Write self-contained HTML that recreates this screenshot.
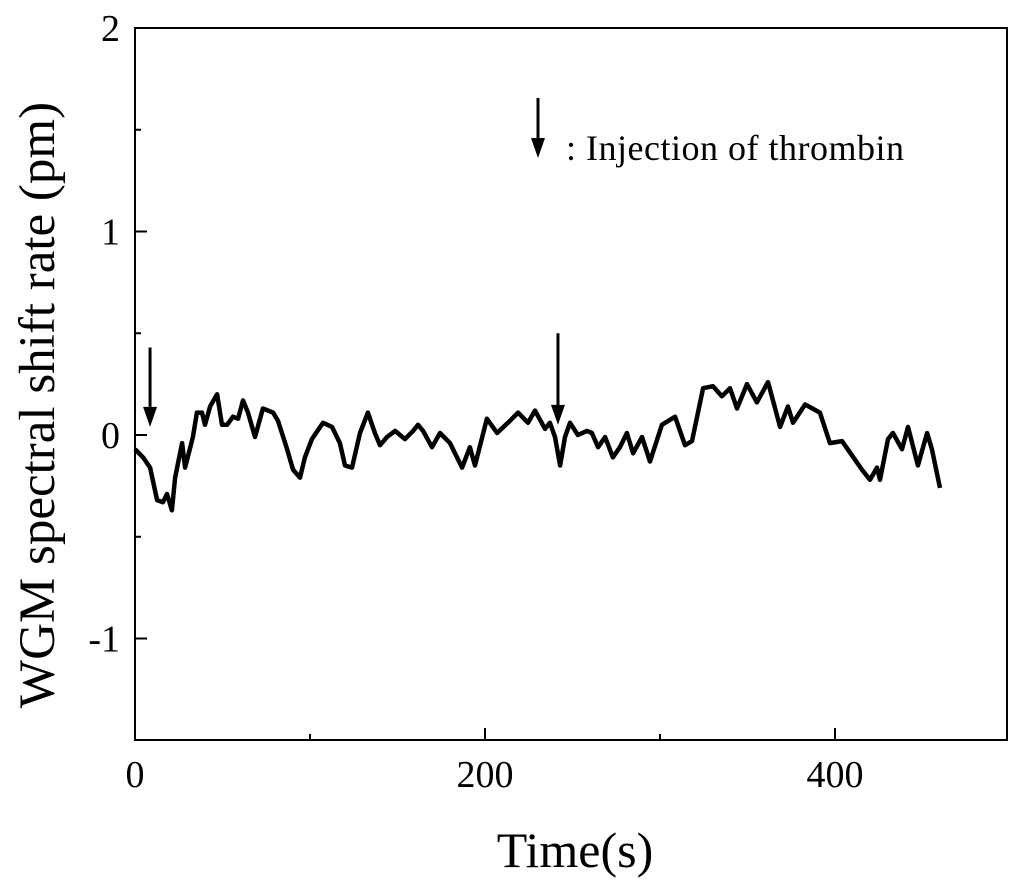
<!DOCTYPE html>
<html><head><meta charset="utf-8"><style>
body{margin:0;background:#fff;}
svg text{font-family:"Liberation Serif",serif;fill:#000;}
</style></head><body>
<svg id="chart" width="1024" height="889" viewBox="0 0 1024 889" xmlns="http://www.w3.org/2000/svg">
<rect x="135" y="28" width="872" height="712" fill="none" stroke="#000" stroke-width="2"/>
<g id="ticks"></g>
<path id="line" fill="none" stroke="#000" stroke-width="4.5" stroke-linejoin="round"/>
<g id="arrows"></g>
<line x1="538" y1="98" x2="538" y2="140" stroke="#000" stroke-width="3"/>
<polygon points="531,138 545,138 538,158" fill="#000"/>
<text x="566" y="160" font-size="36" textLength="338">: Injection of thrombin</text>
<text x="575" y="867" font-size="50" text-anchor="middle">Time(s)</text>
<text transform="translate(54,405) rotate(-90)" font-size="51" text-anchor="middle">WGM spectral shift rate (pm)</text>
</svg>
<script>
const times=[0,4.6,8.6,12.6,16,18.3,21.1,22.9,26.9,28.6,33.1,35.4,38.3,40,42.9,46.9,49.7,52.6,56,58.9,61.7,64.6,68.6,73.1,78.9,81.7,86.9,90.3,94.3,97.1,101.1,107.4,112.6,117.1,120,124,128.6,133.1,137.1,140,144,148.6,154.3,158.9,161.7,164.6,169.7,174.3,180,186.9,191.4,194.3,201.1,206.9,213.1,218.9,224.6,228.6,234.3,237.1,240,242.9,245.7,248.6,253.1,258.3,261.1,264.6,268.6,273.1,277.1,281.1,284.6,289.7,294.3,301.1,308.6,314.3,318.3,324.6,330.3,335.4,340,344,349.7,355.4,361.7,368.6,373.1,376,382.9,391.4,397.1,404,409.7,415.4,420,424,425.7,430.3,433.1,438.3,441.7,447.4,452.6,455.4,460];
const shifts=[-0.07,-0.11,-0.16,-0.32,-0.33,-0.29,-0.37,-0.21,-0.04,-0.16,-0.01,0.11,0.11,0.05,0.14,0.20,0.05,0.05,0.09,0.08,0.17,0.11,-0.01,0.13,0.11,0.07,-0.07,-0.17,-0.21,-0.11,-0.02,0.06,0.04,-0.04,-0.15,-0.16,0.01,0.11,0.01,-0.05,-0.01,0.02,-0.02,0.02,0.05,0.02,-0.06,0.01,-0.04,-0.16,-0.06,-0.15,0.08,0.01,0.06,0.11,0.06,0.12,0.03,0.06,-0.01,-0.15,-0.01,0.06,0,0.02,0.01,-0.06,-0.01,-0.11,-0.06,0.01,-0.09,-0.01,-0.13,0.05,0.09,-0.05,-0.03,0.23,0.24,0.19,0.23,0.13,0.25,0.16,0.26,0.04,0.14,0.06,0.15,0.11,-0.04,-0.03,-0.10,-0.17,-0.22,-0.16,-0.22,-0.02,0.01,-0.07,0.04,-0.15,0.01,-0.07,-0.26];
const injectionTimes=[8.6,241.7];
const injectionTop=[0.43,0.5];
const xTicks=[0,200,400];
const xMinor=[100,300];
const yTicks=[2,1,0,-1];
const yMinor=[1.5,0.5,-0.5];
const xs=v=>135+v*1.75;
const ys=v=>435-v*203.5;
const NS="http://www.w3.org/2000/svg";
const tg=document.getElementById('ticks');
function ln(x1,y1,x2,y2,name){const l=document.createElementNS(NS,'line');l.setAttribute('x1',x1);l.setAttribute('y1',y1);l.setAttribute('x2',x2);l.setAttribute('y2',y2);l.setAttribute('stroke','#000');l.setAttribute('stroke-width','2');


tg.appendChild(l);}
function tx(x,y,s,anchor,name){const t=document.createElementNS(NS,'text');t.setAttribute('x',x);t.setAttribute('y',y);t.setAttribute('font-size','38');t.setAttribute('text-anchor',anchor);t.textContent=s;


tg.appendChild(t);}
xTicks.forEach(v=>{ln(xs(v),740,xs(v),728,'x-tick');tx(xs(v),787,v,'middle','x-tick-label');});
xMinor.forEach(v=>ln(xs(v),740,xs(v),734,'x-minor-tick'));
yTicks.forEach(v=>{ln(135,ys(v),147,ys(v),'y-tick');tx(120,ys(v)+13,v,'end','y-tick-label');});
yMinor.forEach(v=>ln(135,ys(v),141,ys(v),'y-minor-tick'));
document.getElementById('line').setAttribute('d',times.map((t,i)=>(i?'L':'M')+xs(t).toFixed(1)+','+ys(shifts[i]).toFixed(1)).join(''));
const ag=document.getElementById('arrows');
injectionTimes.forEach((t,i)=>{const x=xs(t);const l=document.createElementNS(NS,'line');l.setAttribute('x1',x);l.setAttribute('x2',x);l.setAttribute('y1',ys(injectionTop[i]));l.setAttribute('y2',ys(0.05)-18);l.setAttribute('stroke','#000');l.setAttribute('stroke-width','3');


ag.appendChild(l);
const p=document.createElementNS(NS,'polygon');const yb=ys(0.05)+(i?0:2);p.setAttribute('points',`${x-7},${yb-20} ${x+7},${yb-20} ${x},${yb}`);


ag.appendChild(p);});
</script>
</body></html>
